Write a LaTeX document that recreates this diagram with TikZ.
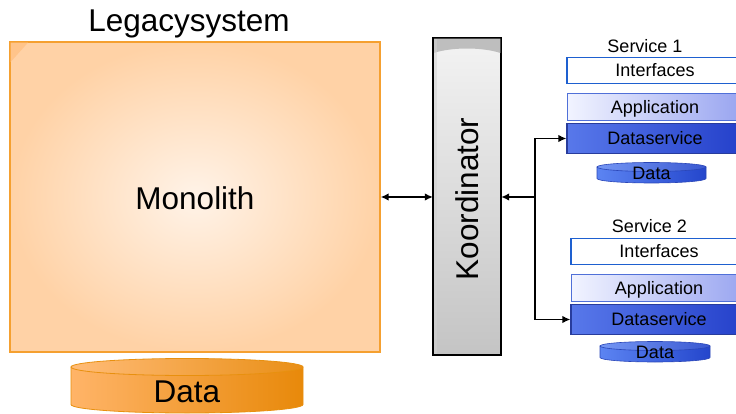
\documentclass[tikz,border=0pt]{standalone}
\usepackage{fontspec}
\setmainfont{Liberation Sans}
\usetikzlibrary{arrows.meta}
\definecolor{monoedge}{HTML}{F5A030}
\definecolor{monoin}{HTML}{FFF3E8}
\definecolor{monoout}{HTML}{FFD2A6}
\definecolor{monocorner}{HTML}{FFC48A}
\definecolor{orL}{HTML}{FFB468}
\definecolor{orR}{HTML}{E8890A}
\definecolor{oredge}{HTML}{E8900F}
\definecolor{gTop}{HTML}{F3F3F3}
\definecolor{gBot}{HTML}{C4C4C4}
\definecolor{gStrip}{HTML}{BEBEBE}
\definecolor{ifblue}{HTML}{1E60D0}
\definecolor{apL}{HTML}{F2F4FF}
\definecolor{apR}{HTML}{98A4F0}
\definecolor{apedge}{HTML}{5070D8}
\definecolor{dsL}{HTML}{5878EA}
\definecolor{dsR}{HTML}{2440CA}
\definecolor{dsedge}{HTML}{283C9C}
\definecolor{cbL}{HTML}{5C84F2}
\definecolor{cbR}{HTML}{2446CC}
\definecolor{cbedge}{HTML}{2A46B8}
% cylinder: #1 cx, #2 rx, #3 top cy, #4 bottom cy, #5 ry, #6 body style, #7 top style
\newcommand\mycyl[7]{%
  \path[#6] ({#1-#2},#3) -- ({#1-#2},#4)
    .. controls ({#1-#2},{#4+0.5523*#5}) and ({#1-0.5523*#2},{#4+#5}) .. (#1,{#4+#5})
    .. controls ({#1+0.5523*#2},{#4+#5}) and ({#1+#2},{#4+0.5523*#5}) .. ({#1+#2},#4)
    -- ({#1+#2},#3) -- cycle;
  \path[#7] (#1,#3) ellipse[x radius=#2pt, y radius=#5pt];
}
\begin{document}
\begin{tikzpicture}[x=1pt,y=-1pt,
  big/.style={font=\fontsize{31.5}{36}\selectfont, inner sep=0pt, text height=22.5pt, text depth=0pt},
  small/.style={font=\fontsize{18}{21}\selectfont, inner sep=0pt, text height=12.9pt, text depth=0pt},
  arr/.style={line width=1.9pt, -{Latex[length=8pt,width=7.5pt]}},
  darr/.style={line width=1.9pt, {Latex[length=8pt,width=7.5pt]}-{Latex[length=8pt,width=7.5pt]}},
  ifbox/.style={draw=ifblue, line width=1.8pt, fill=white, minimum width=176pt, minimum height=26pt, small},
  apbox/.style={draw=apedge, line width=0.9pt, left color=apL, right color=apR, minimum width=176pt, minimum height=27pt, small},
  dsbox/.style={draw=dsedge, line width=1.2pt, left color=dsL, right color=dsR, minimum width=176pt, minimum height=30pt, small},
  bcylbody/.style={left color=cbL, right color=cbR, draw=cbedge, line width=0.6pt},
  bcyltop/.style={left color=cbL!85!white, right color=cbR!90!white, draw=cbedge, line width=0.6pt}
]
\useasboundingbox (0,0) rectangle (736,414);
\clip (0,0) rectangle (736,414);

% Legacy system
\node[font=\fontsize{31.5}{36}\selectfont, inner sep=0pt, anchor=base] (legacy) at (189,32) {Legacysystem};
\node[draw=monoedge, line width=1.2pt, inner color=monoin, outer color=monoout,
      minimum width=370pt, minimum height=310pt] (mono) at (195,197) {};
\fill[monocorner] (10.6,42.6) -- (28,42.6) -- (10.6,62) -- cycle;
\node[big] (monotext) at (195,198) {Monolith};

% Orange data cylinder
\mycyl{187}{116}{367}{404.5}{8.5}{left color=orL, right color=orR, draw=oredge, line width=0.8pt}{left color=orL!90!white, right color=orR!95!white, draw=oredge, line width=0.8pt}
\node[big] (data) at (187,391) {Data};

% Koordinator
\node[draw=black, line width=1.2pt, top color=gTop, bottom color=gBot,
      minimum width=67pt, minimum height=317pt] (koord) at (467,196.5) {};
\fill[gStrip] (433.6,38.6) -- (500.4,38.6) -- (500.4,53)
   .. controls (482,47) and (452,47) .. (433.6,53) -- cycle;
\fill[black!18, opacity=0.5] (433.6,38.6) rectangle (437,354.4);
\draw[line width=1.2pt] (koord.north west) rectangle (koord.south east);
\node[big, rotate=90] (koordtext) at (467,199) {Koordinator};

% Service 1
\node[font=\fontsize{18}{21}\selectfont, inner sep=0pt, anchor=base] (s1) at (645,53) {Service 1};
\node[ifbox] (if1) at (655,70.5) {Interfaces};
\node[apbox] (ap1) at (655,107) {Application};
\node[dsbox] (ds1) at (655,138.5) {Dataservice};
\mycyl{651.5}{54.5}{167}{178.5}{4.5}{bcylbody}{bcyltop}
\node[small] (d1) at (651.5,173) {Data};

% Service 2
\node[font=\fontsize{18}{21}\selectfont, inner sep=0pt, anchor=base] (s2) at (649.5,233) {Service 2};
\node[ifbox] (if2) at (659,251.5) {Interfaces};
\node[apbox] (ap2) at (659,288) {Application};
\node[dsbox] (ds2) at (659,319.5) {Dataservice};
\mycyl{655}{55}{346}{357.5}{4.5}{bcylbody}{bcyltop}
\node[small] (d2) at (655,352) {Data};

% Connectors
\draw[darr] (mono.east) -- (koord.west |- mono.east);
\coordinate (j) at (535,197);
\draw[arr] (j) -- (j -| koord.east);
\draw[arr] (j) |- (ds1.west);
\draw[arr] (j) |- (ds2.west);
\end{tikzpicture}
\end{document}
